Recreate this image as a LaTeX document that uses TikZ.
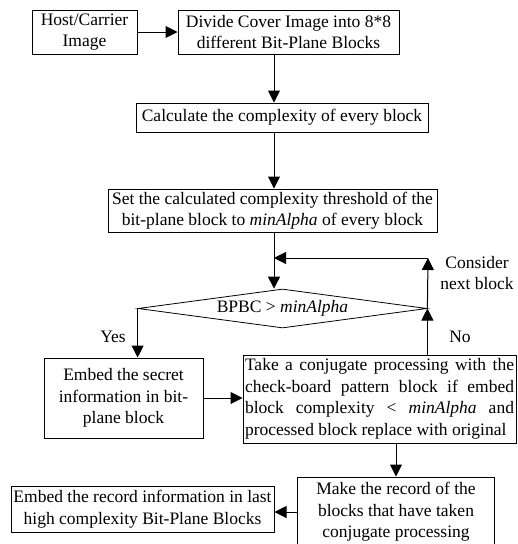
\documentclass[tikz,border=0pt]{standalone}
\usepackage{fontspec}
\setmainfont{Liberation Serif}
\usetikzlibrary{arrows.meta,shapes.geometric}
\tolerance=10000
\hyphenpenalty=10000

\tikzset{
    blk/.style={draw, line width=1pt, align=center, inner sep=2pt},
    lbl/.style={align=center, inner sep=0pt},
    flow/.style={->, line width=1pt}
}

\begin{document}
\begin{tikzpicture}[x=1pt, y=-1pt, >={Triangle[length=12pt,width=12pt]}, font=\fontsize{17.5}{21.5}\selectfont]
    \useasboundingbox (0,0) rectangle (518,544);
    \clip (0,0) rectangle (518,544);
    \coordinate (spine) at (274,0);
    \coordinate (back) at (428,258);
    \coordinate (merge) at (274,258);

    \node[blk, minimum width=105, minimum height=44] at (84.5,32) (host) {Host/Carrier\\Image};
    \node[blk, minimum width=221, minimum height=44] at (288.5,32) (divide) {Divide Cover Image into 8*8\\different Bit-Plane Blocks};
    \node[blk, minimum width=292, minimum height=29] at (282,117.5) (calc) {Calculate the complexity of every block};
    \node[blk, minimum width=329, minimum height=43] at (272.5,210.5) (set) {Set the calculated complexity threshold of the\\bit-plane block to \textit{minAlpha} of every block};
    \node[draw, diamond, aspect=7.4, line width=0.8pt, inner sep=0pt, minimum width=289, minimum height=39] at (282.5,308.5) (dec) {BPBC > \textit{minAlpha}};
    \node[blk, minimum width=159, minimum height=80] at (123.5,398) (embed) {Embed the secret\\information in bit-\\plane block};
    \node[blk, align=justify, text width=269, inner ysep=1pt, minimum height=88] at (379.5,399) (take) {Take a conjugate processing with the check-board pattern block if embed block complexity < \textit{minAlpha} and processed block replace with original};
    \node[blk, minimum width=197, minimum height=70] at (396,512) (make) {Make the record of the\\blocks that have taken\\conjugate processing};
    \node[blk, minimum width=263, minimum height=46] at (142.5,509) (record) {Embed the record information in last\\high complexity Bit-Plane Blocks};

    \node[lbl] at (113,337) (yes) {Yes};
    \node[lbl] at (460,337) (no) {No};
    \node[lbl] at (477,273) (next) {Consider\\next block};

    \draw[flow] (host) -- (divide);
    \draw[flow] (divide.south -| spine) -- (calc.north -| spine);
    \draw[flow] (calc.south -| spine) -- (set.north -| spine);
    \draw[flow] (set.south -| spine) -- (dec.north -| spine);
    \draw[flow] (back) -- (merge);
    \draw[flow] (dec.west) -- (dec.west |- embed.north);
    \draw[flow] (embed.east) -- (embed.east -| take.west);
    \draw[flow] (dec.east |- take.north) -- (dec.east);
    \draw[flow] (dec.east) -- (back);
    \draw[flow] (make.north |- take.south) -- (make.north);
    \draw[flow] (make.west) -- (make.west -| record.east);
\end{tikzpicture}
\end{document}
